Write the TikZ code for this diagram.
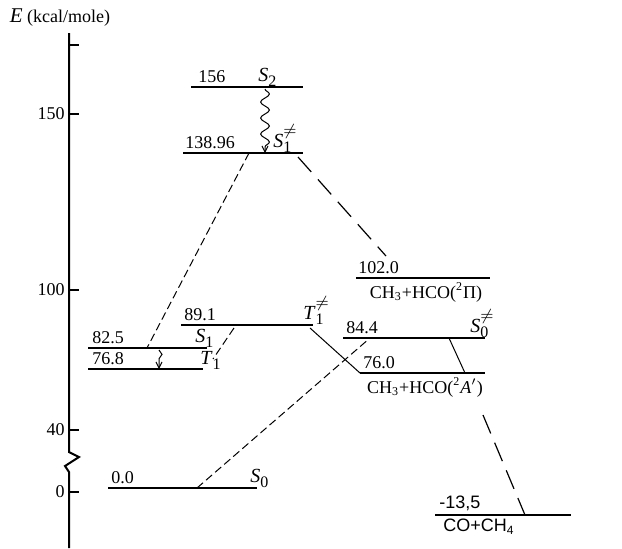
\documentclass[tikz,border=0pt]{standalone}
\usepackage{fontspec}
\setmainfont{Liberation Serif}
\newfontfamily\arialfont{Liberation Sans}
\usetikzlibrary{arrows.meta,positioning,decorations.pathmorphing}

\newcommand{\stt}[2]{\textit{#1}\raisebox{-0.25em}{\fontsize{8}{8}\selectfont #2}}
\newcommand{\sts}[2]{\textit{#1}\rlap{\raisebox{0.6em}{\fontsize{8.5}{8}\selectfont$\neq$}}\raisebox{-0.25em}{\fontsize{8}{8}\selectfont #2}}

\begin{document}
\begin{tikzpicture}[
  x=0.5pt, y=-0.5pt,
  font=\fontsize{9}{10}\selectfont,
  level/.style={line width=1pt},
  axisline/.style={line width=1pt},
  val/.style={anchor=south west, inner sep=1pt},
  state/.style={anchor=base west, inner sep=0pt, font=\fontsize{10}{12}\selectfont},
  prod/.style={anchor=north, inner sep=1pt},
  tlabel/.style={anchor=east, inner sep=1pt},
  trans/.style={line width=0.5pt, dash pattern=on 4pt off 2pt},
  longtrans/.style={line width=0.6pt, dash pattern=on 10pt off 5pt},
  direct/.style={line width=0.5pt},
  relax/.style={-{Straight Barb[length=3pt,width=3pt]}, line width=0.5pt,
    decorate, decoration={snake, amplitude=2.2pt, segment length=8pt, post length=3pt}}
]
\useasboundingbox (0,0) rectangle (622,548);

% energy axis
\coordinate (axtop) at (69,33);
\coordinate (axbot) at (69,548);
\draw[axisline] (axtop) -- (69,452) -- (79,457) -- (65,466) -- (69,472) -- (axbot);
\foreach \y/\t in {45/,114/150,290/100,430/40,492/0}{
  \draw[axisline] (69,\y) -- (79,\y);
  \node[tlabel] (t\y) at (67,\y) {\t};
}
\node (elabel) at (60,18) {{\fontsize{10.5}{12}\selectfont\textit{E}} (kcal/mole)};

% levels
\coordinate (S2a) at (191,87);   \coordinate (S2b) at (303,87);
\coordinate (S1xa) at (183,153); \coordinate (S1xb) at (303,153);
\coordinate (Pia) at (356,278);  \coordinate (Pib) at (490,278);
\coordinate (T1xa) at (181,325); \coordinate (T1xb) at (313,325);
\coordinate (S1a) at (88,348);   \coordinate (S1b) at (207,348);
\coordinate (T1a) at (88,369);   \coordinate (T1b) at (203,369);
\coordinate (S0xa) at (343,338); \coordinate (S0xb) at (485,338);
\coordinate (Apa) at (360,373);  \coordinate (Apb) at (485,373);
\coordinate (S0a) at (108,488);  \coordinate (S0b) at (257,488);
\coordinate (COa) at (435,515);  \coordinate (COb) at (571,515);

\foreach \l in {S2,S1x,Pi,T1x,S1,T1,S0x,Ap,S0,CO}
  \draw[level] (\l a) -- (\l b);

% energies
\node[val] (e156) at (196,85) {156};
\node[val] (e139) at (183,151) {138.96};
\node[val] (e102) at (356,276) {102.0};
\node[val] (e891) at (182,323) {89.1};
\node[val] (e825) at (90,346) {82.5};
\node[val] (e768) at (90,367) {76.8};
\node[val] (e844) at (344,336) {84.4};
\node[val] (e760) at (361,371) {76.0};
\node[val] (e00) at (109,486) {0.0};
\node[val, font=\fontsize{9}{10}\arialfont] (e135) at (437,513) {-13,5};

% states
\node[state] (nS2) at (258,81) {\stt{S}{2}};
\node[state] (nS1x) at (273,147) {\sts{S}{1}};
\node[state] (nT1x) at (303,319) {\sts{T}{1}};
\node[state] (nS1) at (195,342) {\stt{S}{1}};
\node[state] (nT1) at (200,364) {\stt{T}{1}};
\node[state] (nS0x) at (470,332) {\sts{S}{0}};
\node[state] (nS0) at (250,482) {\stt{S}{0}};

% products
\node[prod] (pPi) at (426,280) {CH\textsubscript{3}+HCO(\textsuperscript{2}Π)};
\node[prod] (pAp) at (425,375) {CH\textsubscript{3}+HCO(\textsuperscript{2}\textit{A}$'$)};
\node[prod, font=\fontsize{9}{10}\arialfont] (pCO) at (479,517) {CO+CH\textsubscript{4}};

% transitions
\coordinate (w1) at (265,89);  \coordinate (w2) at (265,153);
\draw[relax] (w1) -- (w2);
\coordinate (w3) at (159,350); \coordinate (w4) at (159,369);
\draw[relax, decoration={snake, amplitude=1.5pt, segment length=7pt, post length=3pt}] (w3) -- (w4);

\coordinate (d1) at (249,153); \coordinate (d2) at (147,348);
\draw[trans] (d1) -- (d2);
\coordinate (d3) at (298,157); \coordinate (d4) at (386,256);
\draw[longtrans] (d3) -- (d4);
\coordinate (d5) at (234,328); \coordinate (d6) at (213,359);
\draw[trans] (d5) -- (d6);
\coordinate (d7) at (310,328);
\draw[direct] (d7) -- (Apa);
\coordinate (d8) at (197,488); \coordinate (d9) at (370,338);
\draw[trans] (d8) -- (d9);
\coordinate (d10) at (449,338); \coordinate (d11) at (465,373);
\draw[direct] (d10) -- (d11);
\coordinate (d12) at (483,415); \coordinate (d13) at (525,515);
\draw[longtrans] (d12) -- (d13);
\end{tikzpicture}
\end{document}
